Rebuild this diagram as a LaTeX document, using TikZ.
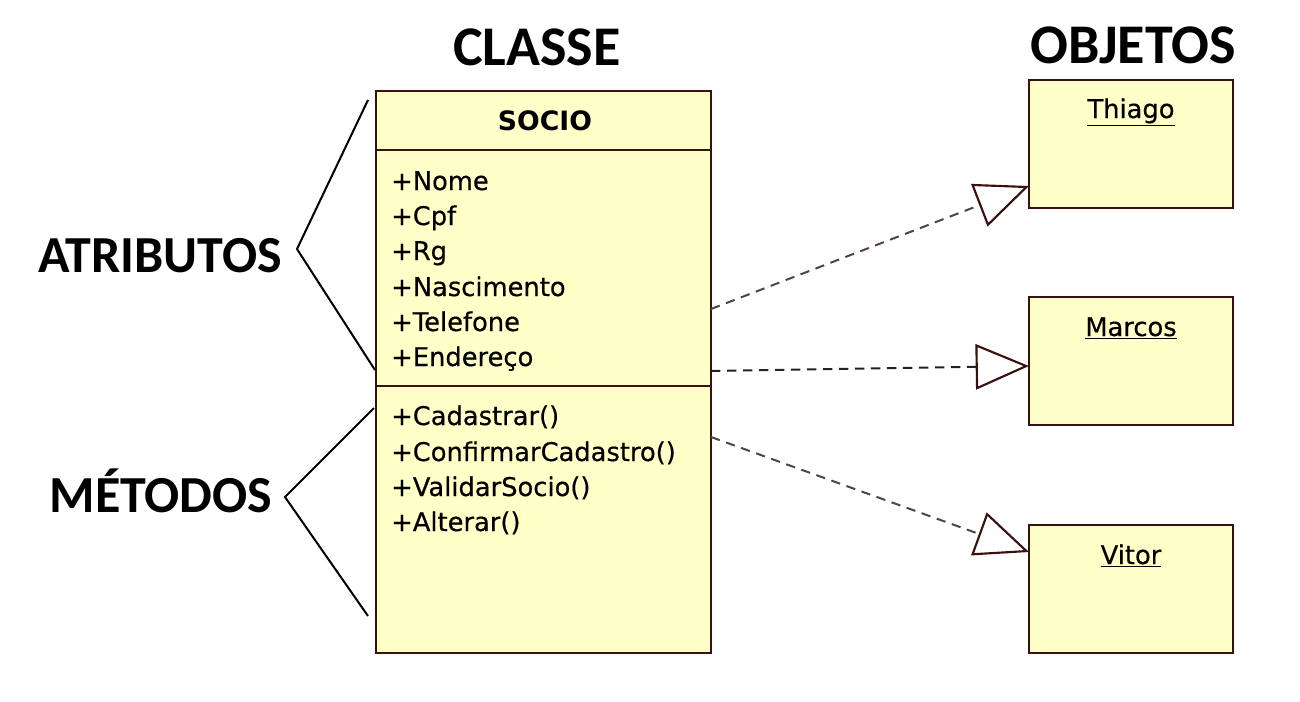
\documentclass[tikz,border=0pt]{standalone}
\usepackage{fontspec}
\setmainfont{DejaVu Sans}
\newfontfamily\memberfont[FakeBold=0.5]{DejaVu Sans}
\newfontfamily\titlefont{Carlito}
\usetikzlibrary{arrows.meta}
\definecolor{umlfill}{RGB}{255,255,200}
\definecolor{umledge}{RGB}{58,16,16}
\definecolor{dashdark}{RGB}{40,32,32}
\definecolor{dashlight}{RGB}{85,65,70}
\begin{document}
\begin{tikzpicture}[x=0.75pt,y=-0.75pt,
  box/.style={draw=umledge, fill=umlfill, line width=1.9pt, rectangle, anchor=north west, inner sep=0pt, outer sep=0pt},
  titletext/.style={font=\titlefont\bfseries\fontsize{42}{42}\selectfont, anchor=base, inner sep=0pt},
  sidetext/.style={font=\titlefont\bfseries\fontsize{39}{39}\selectfont, anchor=base, inner sep=0pt},
  member/.style={font=\memberfont\fontsize{19.3}{20}\selectfont, anchor=base west, inner sep=0pt},
  objname/.style={font=\memberfont\fontsize{19.3}{20}\selectfont, anchor=base, inner sep=0pt},
  bracketline/.style={line width=1.5pt, black, line join=miter},
  dep/.style={line width=1.5pt, dash pattern=on 7pt off 5pt,
    -{Triangle[open, length=40pt, width=34pt, fill=white, color=umledge, line width=1.6pt]}}
]
\path[use as bounding box] (0,0) rectangle (1300,701);

% titles
\node[titletext] (tclasse) at (537,65) {CLASSE};
\node[titletext] (tobjetos) at (1133,63) {OBJETOS};

% class box
\node[box, minimum width=251.25pt, minimum height=44.25pt] (head) at (376,91) {};
\node[box, minimum width=251.25pt, minimum height=177pt] (attrs) at (376,150) {};
\node[box, minimum width=251.25pt, minimum height=200.25pt] (meths) at (376,386) {};
\node[font=\bfseries\fontsize{20}{20}\selectfont, anchor=base, inner sep=0pt] (cname) at (545,130) {SOCIO};

\node[member] (at1) at (391,190) {+Nome};
\node[member] (at2) at (391,225) {+Cpf};
\node[member] (at3) at (391,260) {+Rg};
\node[member] (at4) at (391,296) {+Nascimento};
\node[member] (at5) at (391,331) {+Telefone};
\node[member] (at6) at (391,366) {+Endereço};

\node[member] (me1) at (391,425) {+Cadastrar()};
\node[member] (me2) at (391,461) {+ConfirmarCadastro()};
\node[member] (me3) at (391,496) {+ValidarSocio()};
\node[member] (me4) at (391,531) {+Alterar()};

% objects
\node[box, minimum width=153pt, minimum height=96pt] (thiago) at (1029,80) {};
\node[box, minimum width=153pt, minimum height=96pt] (marcos) at (1029,297) {};
\node[box, minimum width=153pt, minimum height=96pt] (vitor) at (1029,525) {};
\node[objname] (nthiago) at (1131,118) {\underline{Thiago}};
\node[objname] (nmarcos) at (1131,336) {\underline{Marcos}};
\node[objname] (nvitor) at (1131,564) {\underline{Vitor}};

% side labels and brackets
\node[sidetext] (latr) at (160,272) {ATRIBUTOS};
\node[sidetext] (lmet) at (161,512) {MÉTODOS};
\coordinate (a1) at (368,100);
\coordinate (a2) at (297,249);
\coordinate (a3) at (375,370);
\coordinate (m1) at (374,408);
\coordinate (m2) at (285,497);
\coordinate (m3) at (368,616);
\draw[bracketline] (a1) -- (a2) -- (a3);
\draw[bracketline] (m1) -- (m2) -- (m3);

% dependencies
\coordinate (s1) at (711,309);
\coordinate (e1) at (1029,186);
\coordinate (s2) at (711,371);
\coordinate (e2) at (1029,366);
\coordinate (s3) at (711,437);
\coordinate (e3) at (1029,552);
\draw[dep, dashlight] (s1) -- (e1);
\draw[dep, dashdark] (s2) -- (e2);
\draw[dep, dashlight] (s3) -- (e3);
\end{tikzpicture}
\end{document}
